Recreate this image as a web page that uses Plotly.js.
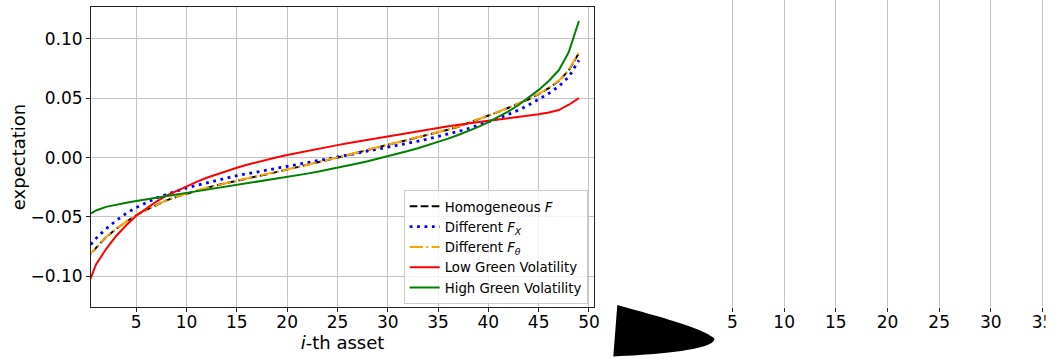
<!DOCTYPE html>
<html>
<head>
<meta charset="utf-8">
<script src="https://cdn.plot.ly/plotly-3.0.1.min.js"></script>
<style>html,body{margin:0;padding:0;background:#fff;}#chart{width:1058px;height:360px;}</style>
</head>
<body>
<div id="chart"></div>
<script>
// asset index
const assets = [0,1,2,3,4,5,6,7,8,9,10,11,12,13,14,15,16,17,18,19,20,21,22,23,24,25,26,27,28,29,30,31,32,33,34,35,36,37,38,39,40,41,42,43,44,45,46,47,48,49];

const homogeneousF = [-0.086,-0.076,-0.067,-0.060,-0.054,-0.0485,-0.044,-0.040,-0.036,-0.033,-0.0303,-0.0278,-0.0255,-0.0233,-0.0213,-0.0195,-0.0176,-0.0158,-0.014,-0.0121,-0.0102,-0.0082,-0.0062,-0.0042,-0.0021,0.0,0.0021,0.0042,0.0063,0.0084,0.0105,0.0126,0.0147,0.0168,0.019,0.0212,0.0235,0.026,0.029,0.032,0.035,0.0385,0.042,0.0455,0.049,0.0535,0.0585,0.0645,0.0735,0.088];

const differentFX = [-0.078,-0.068,-0.060,-0.053,-0.047,-0.042,-0.038,-0.034,-0.031,-0.028,-0.0256,-0.0234,-0.0213,-0.0193,-0.0173,-0.0152,-0.0137,-0.0122,-0.0107,-0.0091,-0.0075,-0.0059,-0.0043,-0.0027,-0.0011,0.0005,0.0021,0.0037,0.0053,0.0069,0.0085,0.0102,0.012,0.0138,0.0157,0.0177,0.0198,0.022,0.0245,0.0272,0.030,0.033,0.0365,0.040,0.0443,0.049,0.054,0.060,0.068,0.082];

const differentFTheta = [-0.085,-0.0755,-0.0668,-0.0598,-0.0538,-0.0484,-0.0439,-0.0399,-0.036,-0.033,-0.0302,-0.0277,-0.0254,-0.0232,-0.0212,-0.0194,-0.0175,-0.0157,-0.0139,-0.012,-0.0101,-0.0081,-0.0061,-0.0041,-0.002,0.0001,0.0022,0.0043,0.0064,0.0085,0.0106,0.0127,0.0148,0.0169,0.0191,0.0213,0.0236,0.0261,0.0291,0.0321,0.0351,0.0386,0.0421,0.0456,0.0492,0.0537,0.0588,0.0648,0.0738,0.089];

const lowGreenVol = [-0.112,-0.090,-0.077,-0.066,-0.057,-0.049,-0.043,-0.037,-0.032,-0.028,-0.024,-0.0205,-0.017,-0.014,-0.011,-0.0085,-0.006,-0.0038,-0.0017,0.0003,0.0021,0.0039,0.0056,0.0073,0.0089,0.0105,0.012,0.0135,0.015,0.0165,0.018,0.0194,0.0208,0.0222,0.0236,0.025,0.0263,0.0276,0.0289,0.030,0.031,0.032,0.033,0.034,0.0352,0.0365,0.038,0.040,0.0445,0.050];

const highGreenVol = [-0.0495,-0.0445,-0.0415,-0.0395,-0.038,-0.0365,-0.035,-0.0337,-0.0323,-0.031,-0.0297,-0.0284,-0.0271,-0.0258,-0.0245,-0.0232,-0.0219,-0.0206,-0.0193,-0.0179,-0.0165,-0.015,-0.0135,-0.0119,-0.0103,-0.0086,-0.0068,-0.005,-0.0031,-0.0011,0.001,0.0032,0.0055,0.0079,0.0104,0.0131,0.016,0.019,0.0222,0.0258,0.0298,0.0342,0.039,0.0443,0.0503,0.057,0.0645,0.0735,0.089,0.115];

const seriesNames = ['Homogeneous <i>F</i>','Different <i>F</i><sub><i>X</i></sub>','Different <i>F</i><sub><i>θ</i></sub>','Low Green Volatility','High Green Volatility'];
const xTicks = [5,10,15,20,25,30,35,40,45,50];
const yTicks = [-0.10,-0.05,0.00,0.05,0.10];
const rightTicks = [5,10,15,20,25,30,35];

const W = 1058, H = 360;
const M = {l:91, r:0, t:0, b:53};
const PW = W - M.l - M.r, PH = H - M.t - M.b;
const px = x => (x - M.l) / PW;
const py = y => (H - M.b - y) / PH;

const FONT = 'DejaVu Sans, Verdana, sans-serif';

const styles = [
  {color:'black', width:2, dash:'7.7px,3.3px'},
  {color:'blue', width:2.8, dash:'2.8px,4.6px'},
  {color:'orange', width:2, dash:'13.3px,3.3px,2.1px,3.3px'},
  {color:'red', width:2, dash:'solid'},
  {color:'green', width:2, dash:'solid'}
];
const allSeries = [homogeneousF, differentFX, differentFTheta, lowGreenVol, highGreenVol];

const traces = allSeries.map((ys, i) => ({
  type:'scatter', mode:'lines', x:assets, y:ys, name:seriesNames[i],
  line:Object.assign({}, styles[i]), xaxis:'x', yaxis:'y', hoverinfo:'skip'
}));
// empty trace to anchor the right panel
traces.push({type:'scatter', mode:'lines', x:[], y:[], xaxis:'x2', yaxis:'y2', showlegend:false, hoverinfo:'skip'});

const blobPath = 'M ' + px(617.3) + ',' + py(305) +
  ' C ' + px(660) + ',' + py(317) + ' ' + px(700) + ',' + py(327) + ' ' + px(714.3) + ',' + py(338.3) +
  ' C ' + px(716) + ',' + py(346) + ' ' + px(690) + ',' + py(353) + ' ' + px(613.3) + ',' + py(356.5) + ' Z';

const layout = {
  width:W, height:H,
  margin:M,
  paper_bgcolor:'white', plot_bgcolor:'white',
  font:{family:FONT, color:'black', size:17},
  showlegend:true,
  legend:{
    x:px(587.7), y:py(304.2), xanchor:'right', yanchor:'bottom',
    bgcolor:'rgba(255,255,255,0.8)', bordercolor:'#cccccc', borderwidth:1,
    font:{family:FONT, size:13.3, color:'black'}, tracegroupgap:0
  },
  xaxis:{
    domain:[0, px(594)], range:[0.5, 50.5], anchor:'y',
    tickvals:xTicks, ticktext:xTicks.map(String),
    ticks:'outside', ticklen:4, tickcolor:'#222', tickwidth:1,
    showline:true, linecolor:'#222', linewidth:1, mirror:true,
    showgrid:true, gridcolor:'#c4c4c4', gridwidth:1, zeroline:false,
    tickfont:{size:17, family:FONT, color:'black'}, ticklabelstandoff:-4,
    title:{text:'<i>i</i>-th asset', font:{size:18, family:FONT, color:'black'}, standoff:2},
    automargin:false
  },
  yaxis:{
    domain:[0, py(7)], range:[-0.1258, 0.1268], anchor:'x',
    tickvals:yTicks, ticktext:['\u22120.10','\u22120.05','0.00','0.05','0.10'],
    ticks:'outside', ticklen:4, tickcolor:'#222', tickwidth:1,
    showline:true, linecolor:'#222', linewidth:1, mirror:true,
    showgrid:true, gridcolor:'#c4c4c4', gridwidth:1, zeroline:false,
    tickfont:{size:17, family:FONT, color:'black'},
    title:{text:'expectation', font:{size:18, family:FONT, color:'black'}, standoff:0},
    automargin:false
  },
  xaxis2:{
    domain:[px(686), 1], range:[0.5, 0.5 + (1058-686)/10.333], anchor:'y2',
    tickvals:rightTicks, ticktext:rightTicks.map(String),
    ticks:'outside', ticklen:4, tickcolor:'#222', tickwidth:1,
    showline:false, showgrid:true, gridcolor:'#c4c4c4', gridwidth:1, zeroline:false,
    tickfont:{size:17, family:FONT, color:'black'}, ticklabelstandoff:-4, automargin:false
  },
  yaxis2:{
    domain:[0, 1], range:[0, 1], anchor:'x2',
    showline:false, showgrid:false, zeroline:false, showticklabels:false, ticks:''
  },
  shapes:[
    {type:'path', xref:'paper', yref:'paper', path:blobPath, fillcolor:'black', line:{width:0}, layer:'above'},
    {type:'rect', xref:'paper', yref:'paper', x0:px(1045.5), x1:px(1060), y0:py(310.5), y1:py(336), fillcolor:'white', line:{width:0}, layer:'above'}
  ]
};

Plotly.newPlot('chart', traces, layout, {staticPlot:true, displayModeBar:false});
</script>
</body>
</html>
